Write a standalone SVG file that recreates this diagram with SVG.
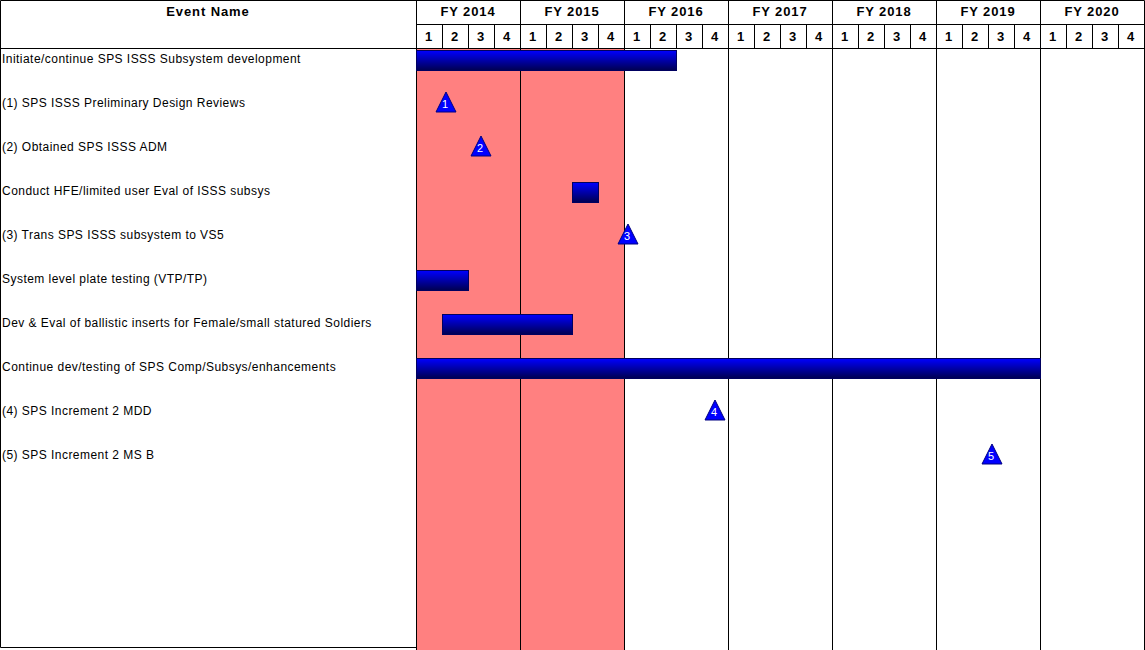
<svg xmlns="http://www.w3.org/2000/svg" width="1145" height="650" viewBox="0 0 1145 650">
<defs>
<linearGradient id="barg" x1="0" y1="0" x2="0" y2="1">
<stop offset="0" stop-color="#0000ff"/>
<stop offset="1" stop-color="#000050"/>
</linearGradient>
<style>
.t{font-family:"Liberation Sans",Arial,sans-serif;font-size:12px;letter-spacing:0.46px;fill:#000}
.h{font-family:"Liberation Sans",Arial,sans-serif;font-size:13px;font-weight:bold;letter-spacing:0.9px;fill:#000;text-anchor:middle}
.ln{stroke:#000;stroke-width:1;fill:none}
.bar{fill:url(#barg);stroke:#000060;stroke-width:1}
.tri{fill:#0000ff;stroke:#000080;stroke-width:1}
.tn{font-family:"Liberation Sans",Arial,sans-serif;font-size:11px;fill:#fff;text-anchor:middle}
</style>
</defs>
<rect width="1145" height="650" fill="#fff"/>
<rect x="416" y="48" width="208" height="602" fill="#ff8080"/>
<g id="grid">
<path class="ln" d="M0.5,0.5H1144.5M0.5,0.5V647.5H416.5M416.5,0.5V650M520.5,0.5V650M624.5,0.5V650M728.5,0.5V650M832.5,0.5V650M936.5,0.5V650M1040.5,0.5V650M1144.5,0.5V650M416.5,24.5H1144.5M0.5,48.5H1144.5"/>
<path class="ln" d="M442.5,24.5V48.5M468.5,24.5V48.5M494.5,24.5V48.5M546.5,24.5V48.5M572.5,24.5V48.5M598.5,24.5V48.5M650.5,24.5V48.5M676.5,24.5V48.5M702.5,24.5V48.5M754.5,24.5V48.5M780.5,24.5V48.5M806.5,24.5V48.5M858.5,24.5V48.5M884.5,24.5V48.5M910.5,24.5V48.5M962.5,24.5V48.5M988.5,24.5V48.5M1014.5,24.5V48.5M1066.5,24.5V48.5M1092.5,24.5V48.5M1118.5,24.5V48.5"/>
</g>
<g id="header">
<text class="h" x="208" y="16">Event Name</text>
<text class="h" x="468" y="16">FY 2014</text>
<text class="h" x="572" y="16">FY 2015</text>
<text class="h" x="676" y="16">FY 2016</text>
<text class="h" x="780" y="16">FY 2017</text>
<text class="h" x="884" y="16">FY 2018</text>
<text class="h" x="988" y="16">FY 2019</text>
<text class="h" x="1092" y="16">FY 2020</text>
<g class="h">
<text x="429" y="41">1</text><text x="455" y="41">2</text><text x="481" y="41">3</text><text x="507" y="41">4</text>
<text x="533" y="41">1</text><text x="559" y="41">2</text><text x="585" y="41">3</text><text x="611" y="41">4</text>
<text x="637" y="41">1</text><text x="663" y="41">2</text><text x="689" y="41">3</text><text x="715" y="41">4</text>
<text x="741" y="41">1</text><text x="767" y="41">2</text><text x="793" y="41">3</text><text x="819" y="41">4</text>
<text x="845" y="41">1</text><text x="871" y="41">2</text><text x="897" y="41">3</text><text x="923" y="41">4</text>
<text x="949" y="41">1</text><text x="975" y="41">2</text><text x="1001" y="41">3</text><text x="1027" y="41">4</text>
<text x="1053" y="41">1</text><text x="1079" y="41">2</text><text x="1105" y="41">3</text><text x="1131" y="41">4</text>
</g>
</g>
<g id="labels">
<text class="t" x="2" y="63">Initiate/continue SPS ISSS Subsystem development</text>
<text class="t" x="2" y="107">(1) SPS ISSS Preliminary Design Reviews</text>
<text class="t" x="2" y="151">(2) Obtained SPS ISSS ADM</text>
<text class="t" x="2" y="195">Conduct HFE/limited user Eval of ISSS subsys</text>
<text class="t" x="2" y="239">(3) Trans SPS ISSS subsystem to VS5</text>
<text class="t" x="2" y="283">System level plate testing (VTP/TP)</text>
<text class="t" x="2" y="327">Dev &amp; Eval of ballistic inserts for Female/small statured Soldiers</text>
<text class="t" x="2" y="371">Continue dev/testing of SPS Comp/Subsys/enhancements</text>
<text class="t" x="2" y="415">(4) SPS Increment 2 MDD</text>
<text class="t" x="2" y="459">(5) SPS Increment 2 MS B</text>
</g>
<g id="bars">
<rect class="bar" x="416.5" y="50.5" width="260" height="20"/>
<rect class="bar" x="572.5" y="182.5" width="26" height="20"/>
<rect class="bar" x="416.5" y="270.5" width="52" height="20"/>
<rect class="bar" x="442.5" y="314.5" width="130" height="20"/>
<rect class="bar" x="416.5" y="358.5" width="624" height="20"/>
</g>
<g id="milestones">
<polygon class="tri" points="446,92 456,112 436,112"/><text class="tn" x="445" y="108">1</text>
<polygon class="tri" points="481,136 491,156 471,156"/><text class="tn" x="480" y="152">2</text>
<polygon class="tri" points="628,224 638,244 618,244"/><text class="tn" x="627" y="240">3</text>
<polygon class="tri" points="715,400 725,420 705,420"/><text class="tn" x="714" y="416">4</text>
<polygon class="tri" points="992,444 1002,464 982,464"/><text class="tn" x="991" y="460">5</text>
</g>
</svg>
